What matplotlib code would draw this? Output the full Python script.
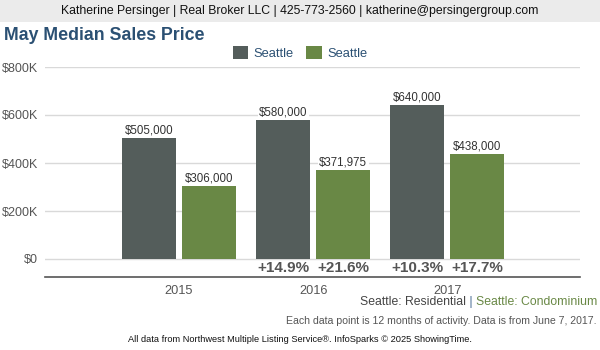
import numpy as np
import matplotlib
matplotlib.use('Agg')
import matplotlib.pyplot as plt
from matplotlib.patches import Rectangle

plt.rcParams['font.family'] = ['Liberation Sans', 'DejaVu Sans']

# data
years = ['2015', '2016', '2017']
residential = [505000, 580000, 640000]
condo = [306000, 371975, 438000]
res_change = ['', '+14.9%', '+10.3%']
condo_change = ['', '+21.6%', '+17.7%']
yticks = [0, 200000, 400000, 600000, 800000]
ytick_labels = ['$0', '$200K', '$400K', '$600K', '$800K']

dark = '#545d5b'
green = '#698845'
navy = '#2b5073'

fig = plt.figure(figsize=(6, 3.5), dpi=100)

# header band
fig.patches.append(Rectangle((0, 1 - 22 / 350), 1, 22 / 350, transform=fig.transFigure,
                             facecolor='#ebebeb', edgecolor='none', zorder=0))
fig.text(0.5, 1 - 11 / 350,
         'Katherine Persinger | Real Broker LLC | 425-773-2560 | katherine@persingergroup.com',
         ha='center', va='center', fontsize=8.8, color='#111111')
fig.text(4 / 600, 1 - 35 / 350, 'May Median Sales Price', ha='left', va='center',
         fontsize=12.8, fontweight='bold', color=navy)

ax = fig.add_axes([45 / 600, 1 - 277 / 350, 535 / 600, 210 / 350])
x = np.arange(len(years))
w = 0.403
off = 0.224
b1 = ax.bar(x - off, residential, w, color=dark, zorder=2, label='Seattle')
b2 = ax.bar(x + off, condo, w, color=green, zorder=2, label='Seattle')

for xi, v in zip(x, residential):
    ax.text(xi - off, v + 6000, '${:,}'.format(v), ha='center', va='bottom', fontsize=8.3,
            color='#333333', zorder=3,
            bbox=dict(facecolor='white', edgecolor='none', pad=1))
for xi, v in zip(x, condo):
    ax.text(xi + off, v + 6000, '${:,}'.format(v), ha='center', va='bottom', fontsize=8.3,
            color='#333333', zorder=3,
            bbox=dict(facecolor='white', edgecolor='none', pad=1))

for xi, a, b in zip(x, res_change, condo_change):
    ax.text(xi - off, -37000, a, ha='center', va='center', fontsize=11,
            fontweight='bold', color='#555555')
    ax.text(xi + off, -37000, b, ha='center', va='center', fontsize=11,
            fontweight='bold', color='#555555')

ax.set_xlim(-1.0, 2.99)
ax.set_ylim(-75000, 800000)
ax.set_yticks(yticks)
ax.set_yticklabels(ytick_labels, fontsize=9, color='#555555')
ax.set_xticks(x)
ax.set_xticklabels(years, fontsize=9.2, color='#555555')
ax.tick_params(axis='y', length=0, pad=5)
ax.tick_params(axis='x', length=0, pad=6)
for yt in yticks:
    ax.axhline(yt, color='#d9d9d9', linewidth=1, zorder=1)
for s in ['top', 'right', 'left']:
    ax.spines[s].set_visible(False)
ax.spines['bottom'].set_color('#555555')
ax.spines['bottom'].set_linewidth(1.2)

leg = fig.legend(handles=[b1, b2], loc='center', bbox_to_anchor=(0.5, 1 - 53 / 350),
                 ncol=2, frameon=False, fontsize=9.3, handlelength=1.2, handleheight=1.2,
                 columnspacing=1.0, handletextpad=0.4)
for t in leg.get_texts():
    t.set_color(navy)

# bottom source line, built right to left
y_src = 1 - 302 / 350
t3 = fig.text(597 / 600, y_src, 'Seattle: Condominium', ha='right', va='center',
              fontsize=8.8, color=green)
fig.canvas.draw()
r = fig.canvas.get_renderer()
bb = t3.get_window_extent(r)
t2 = fig.text(bb.x0 / 600, y_src, ' | ', ha='right', va='center', fontsize=8.8, color='#4a6f96')
bb2 = t2.get_window_extent(r)
fig.text(bb2.x0 / 600, y_src, 'Seattle: Residential', ha='right', va='center',
         fontsize=8.8, color='#444444')

fig.text(597 / 600, 1 - 321 / 350,
         'Each data point is 12 months of activity. Data is from June 7, 2017.',
         ha='right', va='center', fontsize=7.6, color='#555555')
fig.text(0.5, 1 - 340 / 350,
         'All data from Northwest Multiple Listing Service\u00ae. InfoSparks \u00a9 2025 ShowingTime.',
         ha='center', va='center', fontsize=6.7, color='#111111')

fig.savefig('out.png', dpi=100)
